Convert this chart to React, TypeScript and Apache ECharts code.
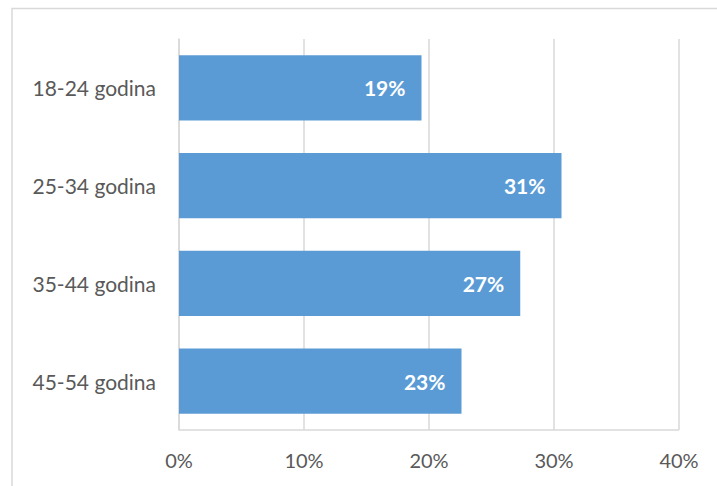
import React, { useEffect, useRef } from "react";
import * as echarts from "echarts";

const categories = ["18-24 godina", "25-34 godina", "35-44 godina", "45-54 godina"];
const values = [19.4, 30.6, 27.3, 22.6];
const axisMax = 40;
const axisInterval = 10;

export default function App() {
  const ref = useRef<HTMLDivElement>(null);
  useEffect(() => {
    if (!ref.current) return;
    const chart = echarts.init(ref.current, null, { renderer: "svg" });
    const font = "Lato, 'Open Sans', sans-serif";
    chart.setOption({
      animation: false,
      backgroundColor: "#ffffff",
      graphic: [
        {
          type: "rect",
          shape: { x: 12, y: 8.5, width: 720, height: 490 },
          style: { fill: "none", stroke: "#d9d9d9", lineWidth: 1.5 },
          silent: true,
        },
        {
          type: "line",
          shape: { x1: 179, y1: 430, x2: 679, y2: 430 },
          style: { stroke: "#d9d9d9", lineWidth: 1.5 },
          silent: true,
        },
      ],
      grid: { left: 179, right: 38, top: 39, bottom: 56, containLabel: false },
      xAxis: {
        type: "value",
        min: 0,
        max: axisMax,
        interval: axisInterval,
        axisLabel: {
          formatter: (v: number) => v + "%",
          color: "#595959",
          fontSize: 20,
          fontFamily: font,
          margin: 20,
        },
        axisLine: { show: false },
        axisTick: { show: false },
        splitLine: { show: true, lineStyle: { color: "#d9d9d9", width: 1.5 } },
      },
      yAxis: {
        type: "category",
        data: categories,
        inverse: true,
        axisLabel: {
          color: "#595959",
          fontSize: 21,
          fontFamily: font,
          margin: 23,
        },
        axisLine: { show: true, lineStyle: { color: "#d9d9d9", width: 1.5 } },
        axisTick: { show: false },
      },
      series: [
        {
          type: "bar",
          data: values,
          barCategoryGap: "33%",
          itemStyle: { color: "#5B9BD5" },
          label: {
            show: true,
            position: "insideRight",
            distance: 16,
            formatter: (p: any) => Math.round(p.value) + "%",
            color: "#ffffff",
            fontWeight: "bold",
            fontSize: 21,
            fontFamily: font,
          },
        },
      ],
    });
    return () => chart.dispose();
  }, []);
  return (
    <div
      ref={ref}
      style={{ position: "fixed", left: 0, top: 0, width: 717, height: 486 }}
    />
  );
}
